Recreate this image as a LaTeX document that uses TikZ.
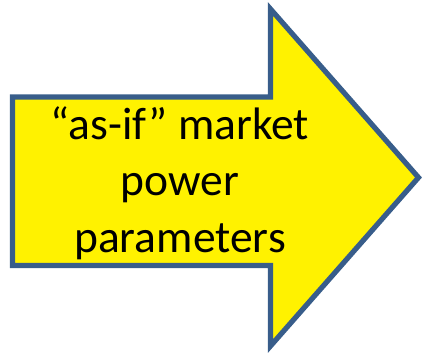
\documentclass[tikz,border=0pt]{standalone}
\usepackage{fontspec}
\setmainfont{Carlito}
\definecolor{arrowblue}{HTML}{385D8A}
\begin{document}
\begin{tikzpicture}[x=1bp, y=-1bp,
  bigarrow/.style={draw=arrowblue, fill=yellow, line width=5.2bp, miter limit=10},
  arrowtext/.style={font=\fontsize{45.5bp}{56.5bp}\selectfont, align=center, inner sep=0pt, text=black}
]
\useasboundingbox (0,0) rectangle (423,353);
\draw[bigarrow] (12.5,97) -- (270.5,97) -- (270.5,9) -- (418.5,177.5) -- (270.5,346) -- (270.5,265.5) -- (12.5,265.5) -- cycle;

\node[arrowtext, anchor=base] (params) at (180,252) {``as-if'' market\\power\\parameters};
\end{tikzpicture}
\end{document}
